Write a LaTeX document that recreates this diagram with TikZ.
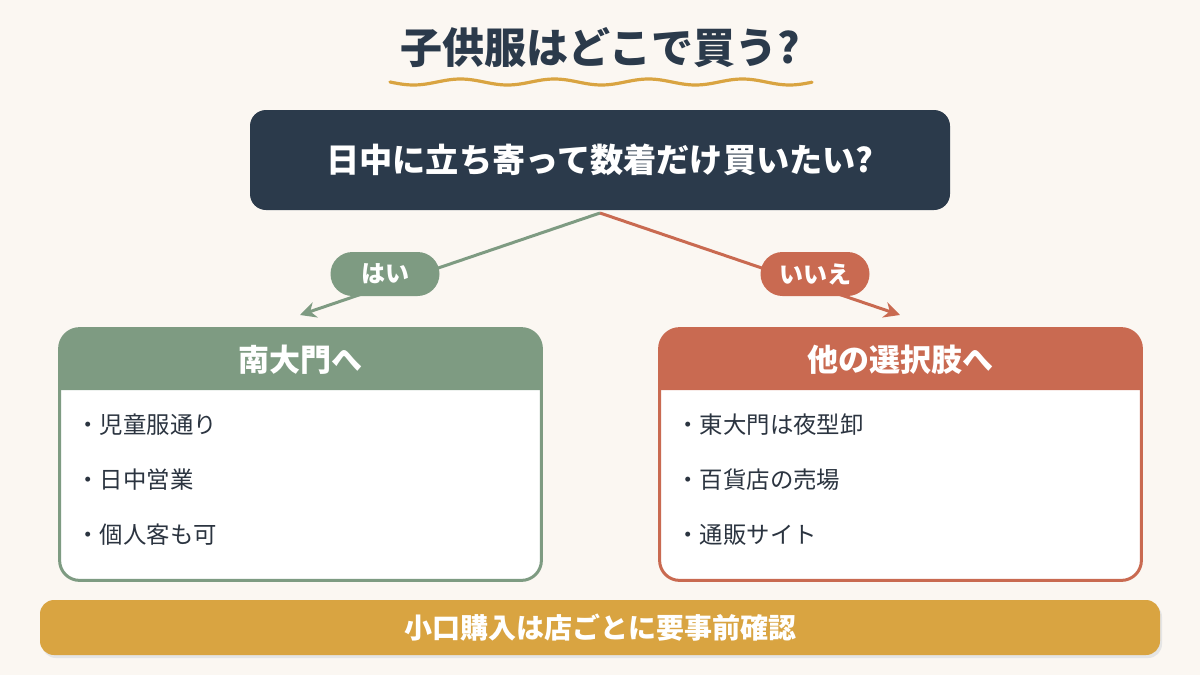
\documentclass[tikz,border=0pt]{standalone}
\usepackage{fontspec}
\setmainfont{Noto Sans CJK JP}
\usetikzlibrary{arrows.meta}
\definecolor{bgc}{HTML}{FBF7F2}
\definecolor{navy}{HTML}{2B3A4B}
\definecolor{sage}{HTML}{7E9B82}
\definecolor{terra}{HTML}{C96A51}
\definecolor{gold}{HTML}{D9A441}
\definecolor{ink}{HTML}{2B3440}
\tikzset{
  pill/.style={rounded corners=11pt, minimum width=54.5pt, minimum height=22pt, inner sep=0pt, text=white, font=\bfseries\fontsize{12pt}{14pt}\selectfont},
  hdr/.style={text=white, font=\bfseries\fontsize{15.5pt}{18pt}\selectfont},
  itemtxt/.style={anchor=west, text=ink, inner sep=0pt, font=\fontsize{11.7pt}{14pt}\selectfont},
  conn/.style={line width=1.5pt, -{Stealth[length=8pt,width=8pt]}},
}
\begin{document}
\begin{tikzpicture}[x=0.5pt,y=-0.5pt]
\useasboundingbox (0,0) rectangle (1200,675);
\fill[bgc] (0,0) rectangle (1200,675);
% title
\node[text=navy, font=\bfseries\fontsize{21pt}{25pt}\selectfont] (title) at (600,48) {子供服はどこで買う?};
\draw[gold, line width=1.6pt, line cap=round] plot[domain=390:812, samples=120] (\x, {82+3*sin((\x-390)/94*360)});
% question
\node[fill=navy, rounded corners=8pt, minimum width=350pt, minimum height=50pt, text=white, font=\bfseries\fontsize{16.6pt}{19pt}\selectfont] (q) at (600,160) {日中に立ち寄って数着だけ買いたい?};
\coordinate (qb) at (600,213);
\coordinate (la) at (300,315);
\coordinate (ra) at (900,315);
\draw[conn, sage] (qb) -- (la);
\draw[conn, terra] (qb) -- (ra);
\node[pill, fill=sage] (yes) at (385,274) {はい};
\node[pill, fill=terra] (no) at (815,274) {いいえ};
% left box
\node[fill=white, rounded corners=10pt, minimum width=240.5pt, minimum height=125.5pt] (L) at (300.5,454.5) {};
\fill[sage] (60,390) [rounded corners=10pt] -- (60,329) -- (541,329) [sharp corners] -- (541,390) -- cycle;
\draw[sage, line width=1.5pt, rounded corners=10pt] (L.north west) rectangle (L.south east);
\node[hdr] (Lh) at (300.5,360) {南大門へ};
\node[itemtxt] (l1) at (76,425) {・児童服通り};
\node[itemtxt] (l2) at (76,480) {・日中営業};
\node[itemtxt] (l3) at (76,535) {・個人客も可};
% right box
\node[fill=white, rounded corners=10pt, minimum width=240.5pt, minimum height=125.5pt] (R) at (900.5,454.5) {};
\fill[terra] (660,390) [rounded corners=10pt] -- (660,329) -- (1141,329) [sharp corners] -- (1141,390) -- cycle;
\draw[terra, line width=1.5pt, rounded corners=10pt] (R.north west) rectangle (R.south east);
\node[hdr] (Rh) at (900.5,360) {他の選択肢へ};
\node[itemtxt] (r1) at (676,425) {・東大門は夜型卸};
\node[itemtxt] (r2) at (676,480) {・百貨店の売場};
\node[itemtxt] (r3) at (676,535) {・通販サイト};
% bottom bar
\fill[black!10, rounded corners=7pt] (42,603) rectangle (1162,658);
\node[fill=gold, rounded corners=7pt, minimum width=560pt, minimum height=27.5pt, text=white, font=\bfseries\fontsize{14pt}{16pt}\selectfont] (note) at (600,627.5) {小口購入は店ごとに要事前確認};
\end{tikzpicture}
\end{document}
